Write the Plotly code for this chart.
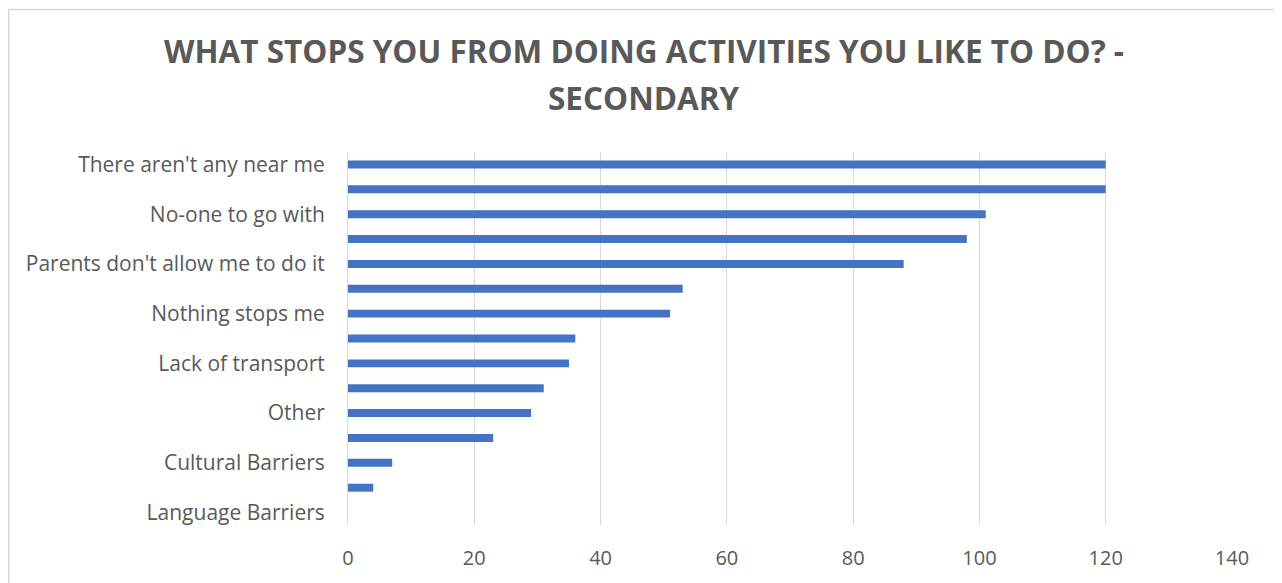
import plotly.graph_objects as go

# ── Data (top → bottom as drawn) ─────────────────────────────────────────────
categories = [
    "There aren't any near me",
    "Reason 2",
    "No-one to go with",
    "Reason 4",
    "Parents don't allow me to do it",
    "Reason 6",
    "Nothing stops me",
    "Reason 8",
    "Lack of transport",
    "Reason 10",
    "Other",
    "Reason 12",
    "Cultural Barriers",
    "Reason 14",
    "Language Barriers",
]
counts = [120, 120, 101, 98, 88, 53, 51, 36, 35, 31, 29, 23, 7, 4, 0]

# Excel only printed every other category label
shown_labels = categories[::2]

x_ticks = [0, 20, 40, 60, 80, 100, 120, 140]

title_lines = ["WHAT STOPS YOU FROM DOING ACTIVITIES YOU LIKE TO DO? -", "SECONDARY"]

_FONT = "Open Sans, Liberation Sans, sans-serif"
_GREY = "#595959"

# The page body adds an 8px margin, so the figure starts at (8, 8) on screen
W, H = 1274, 575
M_L, M_R, M_T, M_B = 340, 50, 144, 56
plot_w = W - M_L - M_R
plot_h = H - M_T - M_B

fig = go.Figure(
    go.Bar(
        x=counts,
        y=categories,
        orientation="h",
        marker=dict(color="#4472C4", line=dict(width=0)),
        showlegend=False,
    )
)

fig.update_layout(
    width=W,
    height=H,
    plot_bgcolor="white",
    paper_bgcolor="white",
    bargap=0.68,
    margin=dict(l=M_L, r=M_R, t=M_T, b=M_B),
    font=dict(family=_FONT, color=_GREY),
)

# Title, one annotation per line so the line spacing can match
for line, y_px in zip(title_lines, [50, 97]):
    fig.add_annotation(
        text=f"<b>{line}</b>",
        xref="paper",
        yref="paper",
        x=(644 - 8 - M_L) / plot_w,
        y=(plot_h + M_T - (y_px - 8)) / plot_h,
        xanchor="center",
        yanchor="middle",
        showarrow=False,
        font=dict(family=_FONT, size=31.5, color=_GREY),
    )

fig.update_xaxes(
    range=[0, 140],
    tickvals=x_ticks,
    tickfont=dict(size=20, color=_GREY),
    showgrid=True,
    gridcolor="#d9d9d9",
    gridwidth=1,
    zeroline=False,
    showline=False,
    ticks="",
    ticklabelstandoff=19,
    fixedrange=True,
)
fig.update_yaxes(
    categoryorder="array",
    categoryarray=categories,
    autorange="reversed",
    tickvals=shown_labels,
    tickfont=dict(size=21, color=_GREY),
    showgrid=False,
    zeroline=False,
    showline=True,
    linecolor="#d9d9d9",
    linewidth=1,
    ticks="",
    ticklabelstandoff=18,
    fixedrange=True,
)

# Chart-area border (the picture is cropped at the bottom)
fig.add_shape(
    type="rect",
    xref="paper",
    yref="paper",
    x0=(0.75 - M_L) / plot_w,
    x1=(1271 - M_L) / plot_w,
    y0=-0.3,
    y1=(plot_h + M_T - 0.75) / plot_h,
    line=dict(color="#d9d9d9", width=1.5),
    fillcolor="rgba(0,0,0,0)",
    layer="below",
)

fig.write_html("out.html")
